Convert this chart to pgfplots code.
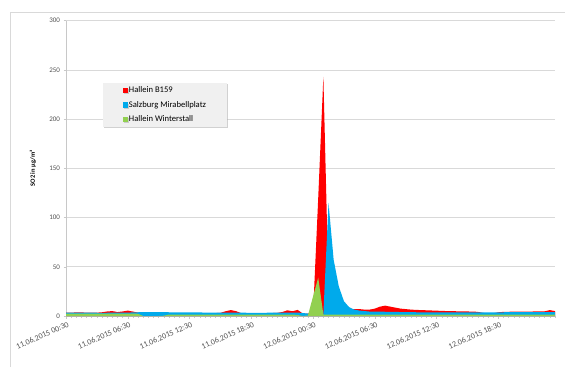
\documentclass[border=0pt]{standalone}
\usepackage{fontspec}
\setmainfont{Carlito}
\usepackage{pgfplots}
\pgfplotsset{compat=1.18}
\usepackage{pgfplotstable}
\usetikzlibrary{shadows}
\definecolor{cred}{RGB}{255,0,0}
\definecolor{cblue}{RGB}{0,170,235}
\definecolor{cgreen}{RGB}{146,208,80}
\definecolor{gridc}{RGB}{217,217,217}
\definecolor{axc}{RGB}{200,200,200}
\definecolor{txt}{RGB}{80,80,80}

\pgfplotstableread{
t r b g
0 3.5 3.5 2.5
0.5 3.5 3.5 2.5
1 3.6 3.5 2.5
1.5 3.6 3.5 2.5
2 3.5 3.4 2.5
2.5 3.3 3.4 2.5
3 3.4 3.3 2.5
3.5 3.8 3.3 2.5
4 4.6 3.3 2.5
4.5 5.0 3.4 2.5
5 4.0 3.5 2.5
5.5 4.6 3.5 2.5
6 5.5 3.5 2.5
6.5 4.5 3.6 2.5
7 3.5 3.8 2.2
7.5 3.0 4.0 0
8 3.0 4.0 0
8.5 3.0 4.0 0
9 3.0 4.0 0
9.5 3.0 4.0 0.3
10 3.0 3.8 1.5
10.5 3.0 3.6 1.5
11 3.0 3.6 1.5
11.5 3.0 3.6 1.5
12 3.0 3.8 1.5
12.5 3.0 3.6 1.5
13 3.0 3.6 1.5
13.5 3.0 3.5 1.5
14 3.0 3.5 1.5
14.5 3.0 3.5 1.5
15 3.2 3.4 1.5
15.5 4.8 3.4 1.5
16 6.0 3.4 1.5
16.5 5.0 3.4 1.5
17 3.0 3.4 1.5
17.5 3.0 3.3 1.5
18 3.0 3.3 1.5
18.5 3.0 3.3 1.5
19 3.0 3.3 1.5
19.5 3.0 3.3 1.5
20 3.0 3.4 1.5
20.5 3.2 3.5 1.5
21 4.0 3.5 1.5
21.5 5.8 3.5 1.5
22 4.8 3.5 1.5
22.5 6.2 3.5 1.0
23 2.5 3.0 0
23.5 2.5 2.5 0.5
24 3.0 1.5 20
24.5 120 1.5 39
25 243 2.0 1.5
25.5 30 115 1.5
26 12 57 1.5
26.5 8 30 1.5
27 7.5 15 1.5
27.5 7 9 1.5
28 7 6.5 1.5
28.5 7 5.5 1.5
29 6.5 5 1.5
29.5 6.5 4.5 1.5
30 7.5 4.5 1.5
30.5 9.5 4.5 1.5
31 10.5 4.3 1.5
31.5 9.5 4.2 1.5
32 8.5 4.2 1.5
32.5 7.5 4.0 1.5
33 7.0 4.0 1.5
33.5 6.5 4.0 1.5
34 6.2 3.8 1.5
34.5 6.0 3.8 1.5
35 5.8 3.8 1.5
35.5 5.6 3.7 1.5
36 5.4 3.7 1.5
36.5 5.2 3.7 1.5
37 5.0 3.6 1.5
37.5 4.9 3.6 1.5
38 4.8 3.6 1.5
38.5 4.7 3.6 1.5
39 4.6 3.6 1.5
39.5 4.5 3.6 1.5
40 4.2 3.6 1.5
40.5 3.2 3.6 1.5
41 2.5 3.6 1.5
41.5 2.8 3.7 1.5
42 3.8 3.8 1.5
42.5 4.2 3.8 1.5
43 4.3 3.9 1.5
43.5 4.4 3.9 1.5
44 4.5 4.0 1.5
44.5 4.5 4.0 1.5
45 4.5 4.0 1.5
45.5 4.6 4.0 1.5
46 4.6 4.0 1.5
46.5 4.8 4.0 1.5
47 6.0 4.0 1.5
47.5 5.0 4.0 1.5
}\data

\pgfplotsset{
  sqlegend/.style={legend image code/.code={\fill[##1] (0pt,-2.6pt) rectangle (5.2pt,2.6pt);}}
}

\begin{document}
\begin{tikzpicture}
\path[use as bounding box] (0pt,0pt) rectangle (565pt,367pt);
\draw[gridc, line width=0.8pt] (10pt,0pt) -- (10pt,355pt) -- (565pt,355pt);
\begin{axis}[
  at={(66pt,51pt)}, anchor=south west,
  scale only axis, width=489pt, height=295.3pt,
  xmin=0, xmax=47.5, ymin=0, ymax=300,
  axis x line*=bottom, axis y line*=left,
  axis line style={-, axc, line width=0.6pt},
  xtick={0,6,...,42},
  xticklabels={11.06.2015 00:30, 11.06.2015 06:30, 11.06.2015 12:30, 11.06.2015 18:30, 12.06.2015 00:30, 12.06.2015 06:30, 12.06.2015 12:30, 12.06.2015 18:30},
  minor xtick={0,0.5,...,47.5},
  ytick={0,50,...,300},
  ymajorgrids, grid style={gridc, line width=0.6pt},
  tick align=outside, major tick length=2.5pt, minor tick length=2pt,
  tick style={axc, line width=0.5pt},
  x tick label style={rotate=24, anchor=north east, font=\fontsize{8}{9}\selectfont, text=txt, inner sep=1pt, yshift=-2pt, xshift=1pt},
  yticklabel style={font=\fontsize{7}{8}\selectfont, text=txt},
  /pgf/number format/assume math mode=true,
  ylabel={\textbf{SO2\ in\ µg/m³}},
  ylabel style={at={(axis description cs:-0.0675,0.5)}, anchor=center, font=\fontsize{6.5}{7}\selectfont},
  sqlegend,
  legend cell align=left,
  legend style={at={(0.0757,0.789)}, anchor=north west, fill=gray!12, draw=none,
    font=\fontsize{8.6}{9.5}\selectfont, inner xsep=19.5pt, inner ysep=2.5pt, row sep=5pt,
    nodes={inner sep=1pt},
    drop shadow={shadow xshift=1.2pt, shadow yshift=-1.2pt, fill=gray!60, opacity=0.6}},
]
\addplot[fill=cred, draw=none] table[x=t, y=r] {\data} \closedcycle;
\addplot[fill=cblue, draw=none] table[x=t, y=b] {\data} \closedcycle;
\addplot[fill=cgreen, draw=none] table[x=t, y=g] {\data} \closedcycle;
\legend{Hallein B159, Salzburg Mirabellplatz, Hallein Winterstall}
\end{axis}
\end{tikzpicture}
\end{document}
